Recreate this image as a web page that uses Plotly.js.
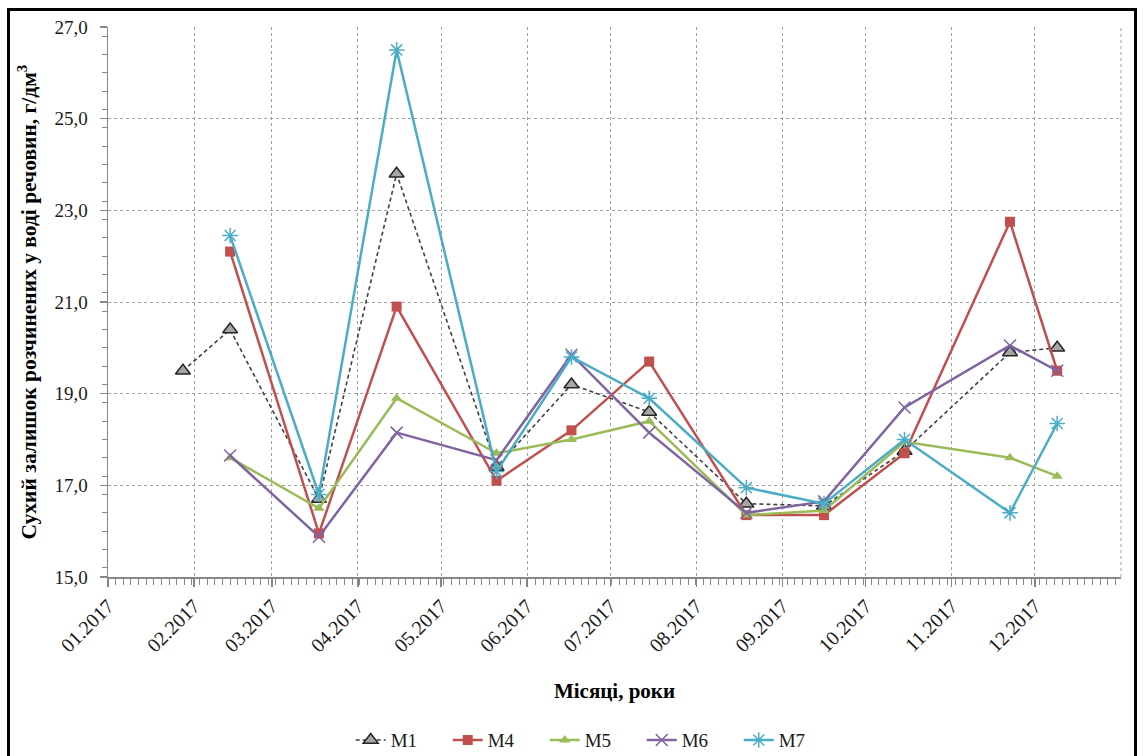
<!DOCTYPE html>
<html>
<head>
<meta charset="utf-8">
<script src="https://cdn.plot.ly/plotly-3.0.1.min.js"></script>
<style>
  html, body { margin: 0; padding: 0; background: #fff; overflow: hidden; }
  #chart { width: 1143px; height: 756px; }
  #frame { position: absolute; left: 7px; top: 8px; width: 1124px; height: 800px;
           border: 3px solid #000; pointer-events: none; z-index: 10; }
</style>
</head>
<body>
<div id="chart"></div>
<div id="frame"></div>
<script>
// Sampling dates
const dates = ['2017-01-28', '2017-02-14', '2017-03-18', '2017-04-15', '2017-05-21', '2017-06-17',
               '2017-07-15', '2017-08-19', '2017-09-16', '2017-10-15', '2017-11-22', '2017-12-09'];
// Dry residue of dissolved substances, g/dm3
const M1 = [19.5, 20.4, 16.7, 23.8, 17.4, 19.2, 18.6, 16.6, 16.55, 17.75, 19.9, 20.0];
const M4 = [null, 22.1, 15.95, 20.9, 17.1, 18.2, 19.7, 16.35, 16.35, 17.7, 22.75, 19.5];
const M5 = [null, 17.6, 16.5, 18.9, 17.7, 18.0, 18.4, 16.35, 16.45, 17.95, 17.6, 17.2];
const M6 = [null, 17.65, 15.88, 18.15, 17.55, 19.85, 18.15, 16.4, 16.65, 18.7, 20.05, 19.5];
const M7 = [null, 22.45, 16.8, 26.5, 17.3, 19.8, 18.9, 16.95, 16.6, 18.0, 16.4, 18.35];
const seriesNames = ['M1', 'M4', 'M5', 'M6', 'M7'];

// Month ticks
const monthTicks = ['2017-01-01', '2017-02-01', '2017-03-01', '2017-04-01', '2017-05-01', '2017-06-01',
                    '2017-07-01', '2017-08-01', '2017-09-01', '2017-10-01', '2017-11-01', '2017-12-01'];
const monthLabels = ['01.2017', '02.2017', '03.2017', '04.2017', '05.2017', '06.2017',
                     '07.2017', '08.2017', '09.2017', '10.2017', '11.2017', '12.2017'];
const xRange = ['2017-01-01', '2018-01-01'];

const xTitle = 'Місяці, роки';
const yTitle = 'Сухий залишок розчинених у воді речовин, г/дм<sup>3</sup>';

const FONT = 'Liberation Serif, Times New Roman, serif';

const traces = [
  { x: dates, y: M1, name: seriesNames[0], mode: 'lines+markers',
    line: { color: '#404040', width: 1.6, dash: '4px,3px' },
    marker: { symbol: 'triangle-up', size: 13, color: '#A6A6A6', line: { color: '#262626', width: 1.5 } } },
  { x: dates, y: M4, name: seriesNames[1], mode: 'lines+markers',
    line: { color: '#C0504D', width: 2.5 },
    marker: { symbol: 'square', size: 10, color: '#C0504D' } },
  { x: dates, y: M5, name: seriesNames[2], mode: 'lines+markers',
    line: { color: '#9BBB59', width: 2.5 },
    marker: { symbol: 'triangle-up', size: 10, color: '#9BBB59' } },
  { x: dates, y: M6, name: seriesNames[3], mode: 'lines+markers',
    line: { color: '#8064A2', width: 2.5 },
    marker: { symbol: 'x-thin-open', size: 12, color: '#8064A2', line: { color: '#8064A2', width: 1.5 } } },
  { x: dates, y: M7, name: seriesNames[4], mode: 'lines+markers',
    line: { color: '#4BACC6', width: 2.5 },
    marker: { symbol: 'asterisk-open', size: 13, color: '#4BACC6', line: { color: '#4BACC6', width: 1.5 } } }
];

const layout = {
  width: 1143, height: 756,
  margin: { l: 108, r: 22, t: 27, b: 179 },
  paper_bgcolor: '#fff', plot_bgcolor: '#fff',
  separators: ', ',
  font: { family: FONT, size: 19, color: '#1a1a1a' },
  showlegend: true,
  legend: { orientation: 'h', x: 0.479, xanchor: 'center', xref: 'paper',
            y: 0.021, yanchor: 'middle', yref: 'container',
            entrywidth: 52, entrywidthmode: 'pixels',
            font: { family: FONT, size: 19, color: '#1a1a1a' }, traceorder: 'normal' },
  shapes: [
    { type: 'line', xref: 'paper', yref: 'paper', x0: 1, x1: 1, y0: 0, y1: 1,
      line: { color: '#A0A0A0', width: 1, dash: 'dot' }, layer: 'below' }
  ],
  xaxis: {
    type: 'date', range: xRange,
    tickmode: 'array', tickvals: monthTicks, ticktext: monthLabels, tickangle: -45,
    tickfont: { family: FONT, size: 20, color: '#1a1a1a' },
    showline: true, linecolor: '#868686', linewidth: 1.5,
    ticks: 'outside', ticklen: 8, tickcolor: '#868686', tickwidth: 1.5,
    showgrid: true, gridcolor: '#A0A0A0', gridwidth: 1, griddash: 'dot',
    minor: { dtick: 237600000, tick0: '2017-01-01', ticks: 'outside', ticklen: 6,
             tickcolor: '#868686', tickwidth: 1, showgrid: false },
    zeroline: false,
    title: { text: xTitle, font: { family: FONT, size: 21, color: '#000', weight: 'bold' }, standoff: 28 }
  },
  yaxis: {
    range: [15, 27], dtick: 2, tick0: 15, tickformat: '.1f',
    tickfont: { family: FONT, size: 19, color: '#1a1a1a' },
    showline: true, linecolor: '#868686', linewidth: 1.5,
    ticks: 'outside', ticklen: 7, tickcolor: '#868686', tickwidth: 1.5,
    ticklabelstandoff: 8,
    showgrid: true, gridcolor: '#A0A0A0', gridwidth: 1, griddash: 'dot',
    minor: { dtick: 0.4, ticks: 'outside', ticklen: 5, tickcolor: '#868686', tickwidth: 1, showgrid: false },
    zeroline: false,
    title: { text: yTitle, font: { family: FONT, size: 21.5, color: '#000', weight: 'bold' }, standoff: 12 }
  }
};

Plotly.newPlot('chart', traces, layout, { displayModeBar: false, staticPlot: true });
</script>
</body>
</html>
